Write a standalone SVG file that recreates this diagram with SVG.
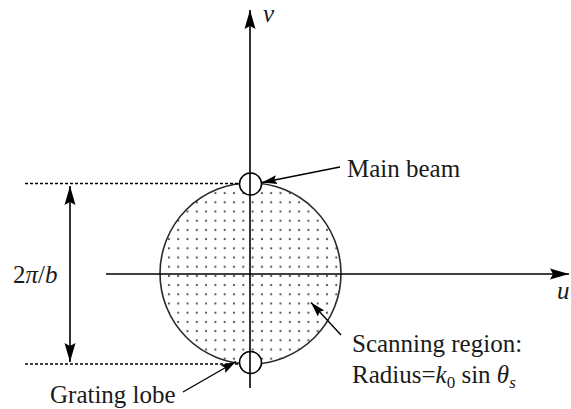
<svg xmlns="http://www.w3.org/2000/svg" width="571" height="409" viewBox="0 0 571 409">
  <style>
    .lbl { font-family: "Liberation Serif", "DejaVu Serif", "Times New Roman", serif; font-size: 25px; fill: #1a1a1a; }
    .it { font-style: italic; }
    .ax { stroke: #000; stroke-width: 1.6; fill: none; }
    .ptr { stroke: #000; stroke-width: 1.4; fill: none; }
    .dash { stroke: #000; stroke-width: 1.4; stroke-dasharray: 3 2; fill: none; }
  </style>
  <defs>
    <marker id="ahBig" markerUnits="userSpaceOnUse" markerWidth="20" markerHeight="12" refX="19" refY="6" orient="auto-start-reverse">
      <path d="M0,0.5 L19,6 L0,11.5 L3,6 Z" fill="#000"/>
    </marker>
    <marker id="ahSmall" markerUnits="userSpaceOnUse" markerWidth="16" markerHeight="10" refX="15" refY="5" orient="auto">
      <path d="M0,0.5 L15,5 L0,9.5 L2.5,5 Z" fill="#000"/>
    </marker>
    <pattern id="dots" patternUnits="userSpaceOnUse" x="238.65" y="262.1" width="9.3" height="9.2">
      <circle cx="4.65" cy="4.6" r="1.1" fill="#555"/>
    </pattern>
  </defs>

  <g id="scanning-region">
    <circle cx="250.5" cy="273.5" r="90.5" fill="url(#dots)" stroke="#2a2a2a" stroke-width="1.6"/>
  </g>

  <g id="connectors">
    <line class="ax" x1="250" y1="388" x2="250" y2="10" marker-end="url(#ahBig)"/>
    <line class="ax" x1="106" y1="274" x2="569" y2="274" marker-end="url(#ahBig)"/>
    <line class="dash" x1="25" y1="183.5" x2="240" y2="183.5"/>
    <line class="dash" x1="25" y1="364" x2="240" y2="364"/>
    <line class="ax" x1="70" y1="186" x2="70" y2="362" marker-start="url(#ahBig)" marker-end="url(#ahBig)"/>
    <line class="ptr" x1="340" y1="167" x2="262" y2="182.5" marker-end="url(#ahSmall)"/>
    <line class="ptr" x1="341" y1="335" x2="311" y2="302.5" marker-end="url(#ahSmall)"/>
    <line class="ptr" x1="183" y1="392" x2="236" y2="361.5" marker-end="url(#ahSmall)"/>
  </g>

  <g id="main-beam">
    <circle cx="250.5" cy="184" r="11" fill="#fff" stroke="#000" stroke-width="1.5"/>
    <line x1="250" y1="173" x2="250" y2="195" stroke="#000" stroke-width="1.6"/>
  </g>
  <g id="grating-lobe">
    <circle cx="250.5" cy="362.5" r="11" fill="#fff" stroke="#000" stroke-width="1.5"/>
    <line x1="250" y1="351.5" x2="250" y2="373.5" stroke="#000" stroke-width="1.6"/>
  </g>

  <g id="labels">
    <text class="lbl it" x="263" y="21.5">v</text>
    <text class="lbl it" x="557" y="299">u</text>
    <text class="lbl" x="13" y="283">2<tspan class="it">π</tspan>/<tspan class="it">b</tspan></text>
    <text class="lbl" x="347" y="177">Main beam</text>
    <text class="lbl" x="50" y="403">Grating lobe</text>
    <text class="lbl" x="352" y="352">Scanning region:</text>
    <text class="lbl" x="352" y="383">Radius=<tspan class="it">k</tspan><tspan font-size="17" dy="5">0</tspan><tspan dy="-5"> sin </tspan><tspan class="it">θ</tspan><tspan class="it" font-size="17" dy="5">s</tspan></text>
  </g>
</svg>
